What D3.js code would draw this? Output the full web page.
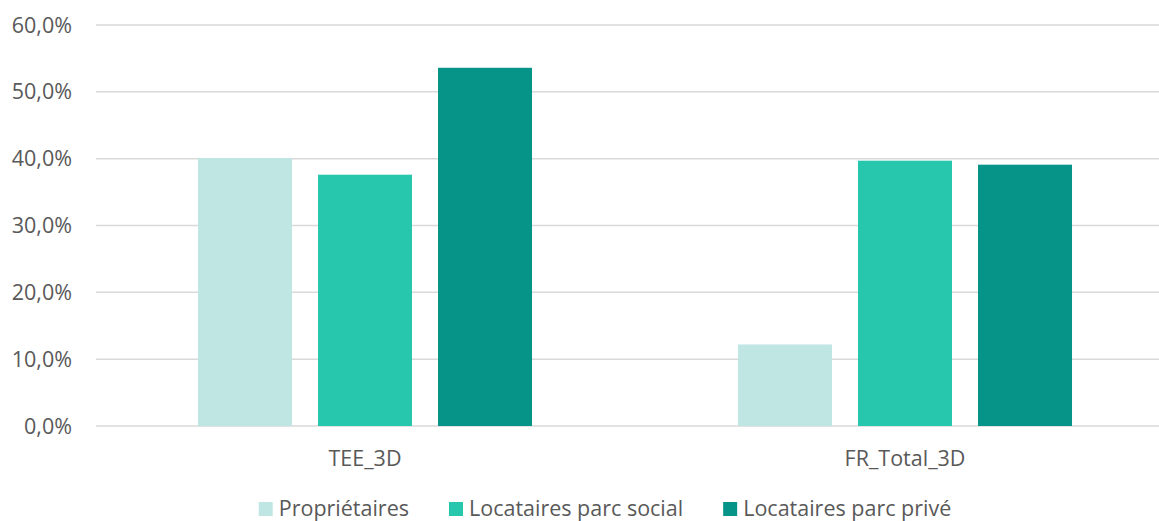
<!DOCTYPE html>
<html>
<head>
<meta charset="utf-8">
<script src="https://cdn.jsdelivr.net/npm/d3@7"></script>
<style>
  html,body{margin:0;padding:0;background:#fff}
  svg{display:block}
  text{font-family:"Open Sans",Lato,sans-serif;fill:#595959}
</style>
</head>
<body>
<div id="chart"></div>
<script>
// data
const categories=["TEE_3D","FR_Total_3D"];
const series=["Propriétaires","Locataires parc social","Locataires parc privé"];
const proprietaires=[0.401,0.122];
const locSocial=[0.376,0.397];
const locPrive=[0.536,0.391];
const yTicks=[0,0.1,0.2,0.3,0.4,0.5,0.6];
const colors=["#c0e6e4","#27c7ad","#059487"];

const W=1159,H=521,FS="21.5px";
const values=[proprietaires,locSocial,locPrive];

const svg=d3.select("#chart").append("svg").attr("width",W).attr("height",H);

const x0=d3.scaleBand().domain(categories).range([95,1175]).padding(0);
const x1=d3.scaleBand().domain(series).range([0,x0.bandwidth()]).paddingInner(0.2167).paddingOuter(0.858);
const y=d3.scaleLinear().domain([0,0.6]).range([426,25]);

const fmt=v=>d3.format(".1f")(v*100).replace(".",",")+"%";

// gridlines
svg.append("g").selectAll("line").data(yTicks).enter().append("line")
  .attr("x1",96).attr("x2",W)
  .attr("y1",d=>y(d)).attr("y2",d=>y(d))
  .attr("stroke","#d9d9d9").attr("stroke-width",1.5);

// y labels
svg.append("g").selectAll("text").data(yTicks).enter().append("text")
  .attr("x",72).attr("y",d=>y(d)).attr("dy","0.35em")
  .attr("text-anchor","end").attr("font-size",FS)
  .text(fmt);

// bars
const grp=svg.append("g").selectAll("g").data(categories).enter().append("g")
  .attr("transform",d=>"translate("+x0(d)+",0)");
grp.selectAll("rect").data((c,i)=>series.map((s,k)=>({s:s,k:k,v:values[k][i]}))).enter().append("rect")
  .attr("x",d=>x1(d.s)).attr("width",x1.bandwidth())
  .attr("y",d=>y(d.v)).attr("height",d=>y(0)-y(d.v))
  .attr("fill",d=>colors[d.k]);

// category labels
svg.append("g").selectAll("text").data(categories).enter().append("text")
  .attr("x",d=>x0(d)+x0.bandwidth()/2).attr("y",466)
  .attr("text-anchor","middle").attr("font-size",FS)
  .text(d=>d);

// legend
const leg=svg.append("g");
const items=leg.selectAll("g").data(series).enter().append("g");
items.append("rect").attr("width",14).attr("height",14).attr("y",-14)
  .attr("fill",(d,i)=>colors[i]);
items.append("text").attr("x",20).attr("font-size",FS).attr("y",0).text(d=>d);
let off=0;const pos=[];
items.each(function(d){
  const w=20+this.querySelector("text").getComputedTextLength();
  pos.push(off);off+=w+40;
});
const total=off-40;
const start=605-total/2;
items.attr("transform",(d,i)=>"translate("+(start+pos[i])+",516)");
</script>
</body>
</html>
